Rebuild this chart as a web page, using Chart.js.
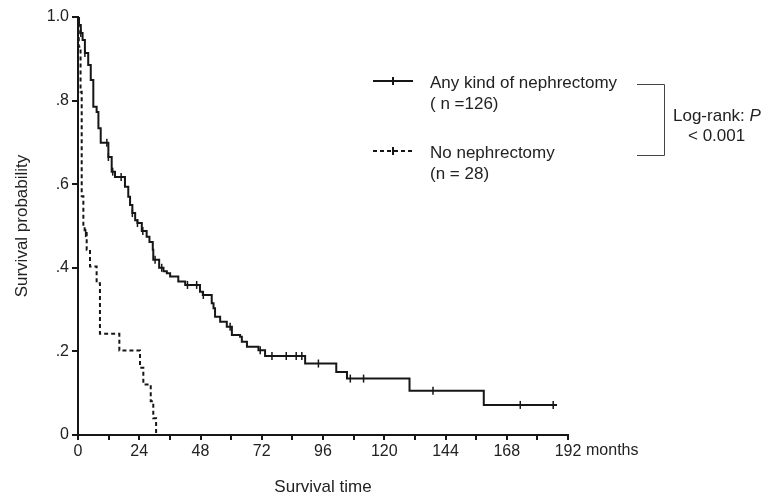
<!DOCTYPE html>
<html>
<head>
<meta charset="utf-8">
<title>Survival by nephrectomy</title>
<script src="https://cdn.jsdelivr.net/npm/chart.js@4.4.1/dist/chart.umd.min.js"></script>
<style>
  body { margin: 0; background: #fff; }
  #wrap { width: 768px; height: 501px; }
</style>
</head>
<body>
<div id="wrap"><canvas id="kmChart" width="768" height="501"></canvas></div>
<script>
// Kaplan-Meier steps (months, survival probability)
const nephTime = [0, 0.4, 1.1, 1.8, 2.7, 4.0, 5.0, 6.0, 7.3, 8.0, 8.9, 11.9, 13.2, 14.5, 18.4, 19.7, 20.4, 21.3, 22.4, 23.3,
  25.0, 26.9, 28.0, 29.3, 29.5, 31.8, 33.5, 34.8, 36.1, 39.3, 42.0, 47.8, 48.9, 52.4, 53.1, 53.7, 55.7, 58.3, 60.3, 63.5,
  64.2, 66.2, 70.7, 73.3, 89.0, 101.2, 105.4, 129.9, 159.0, 187.7];
const nephSurv = [1.0, 0.981, 0.962, 0.945, 0.914, 0.885, 0.849, 0.785, 0.773, 0.734, 0.699, 0.665, 0.630, 0.617, 0.594, 0.570, 0.550, 0.531, 0.514, 0.507,
  0.488, 0.474, 0.462, 0.443, 0.419, 0.400, 0.392, 0.387, 0.379, 0.367, 0.359, 0.343, 0.335, 0.315, 0.303, 0.283, 0.271, 0.259, 0.239, 0.235,
  0.223, 0.211, 0.203, 0.189, 0.171, 0.151, 0.135, 0.106, 0.072, 0.072];
const nephCensTime = [1.1, 2.7, 11.3, 11.9, 13.6, 16.9, 21.3, 23.3, 25.4, 30.2, 32.8, 42.9, 46.5, 49.1, 59.6, 71.4, 76.0, 81.6, 85.5, 87.7,
  94.2, 106.7, 111.9, 139.1, 173.3, 186.2];
const nephCensSurv = [0.962, 0.914, 0.699, 0.665, 0.630, 0.617, 0.531, 0.507, 0.488, 0.419, 0.400, 0.359, 0.359, 0.335, 0.259, 0.203, 0.189, 0.189, 0.189, 0.189,
  0.171, 0.135, 0.135, 0.106, 0.072, 0.072];

const noNephTime = [0, 0.3, 1.0, 1.45, 2.1, 2.6, 3.4, 4.7, 7.3, 8.6, 16.2, 24.3, 25.6, 28.5, 29.5, 30.6];
const noNephSurv = [1.0, 0.929, 0.821, 0.571, 0.500, 0.483, 0.443, 0.403, 0.363, 0.242, 0.202, 0.161, 0.121, 0.081, 0.040, 0.0];
const noNephCensTime = [3.0];
const noNephCensSurv = [0.483];

const xTicks = [0, 24, 48, 72, 96, 120, 144, 168, 192];

const INK = '#161616';
const FONT = '"Liberation Sans", Arial, Helvetica, sans-serif';

function pts(xs, ys) {
    return xs.map((x, i) => ({ x: x, y: ys[i] }));
}

// legend, bracket and the "months" unit are drawn after the chart
const annotations = {
    id: 'annotations',
    afterDraw(chart) {
        const ctx = chart.ctx;
        const xs = chart.scales.x;
        ctx.save();
        ctx.fillStyle = '#222';
        ctx.font = '16px ' + FONT;
        ctx.textBaseline = 'middle';
        ctx.textAlign = 'left';
        ctx.fillText('months', xs.getPixelForValue(192) + 18, 451);

        // legend samples
        ctx.strokeStyle = INK;
        ctx.lineWidth = 2;
        ctx.beginPath();
        ctx.moveTo(373, 81); ctx.lineTo(413, 81);
        ctx.moveTo(393, 77); ctx.lineTo(393, 85);
        ctx.stroke();
        ctx.setLineDash([4, 3]);
        ctx.beginPath();
        ctx.moveTo(373, 151); ctx.lineTo(413, 151);
        ctx.stroke();
        ctx.setLineDash([]);
        ctx.beginPath();
        ctx.moveTo(393, 147); ctx.lineTo(393, 155);
        ctx.stroke();

        ctx.font = '17px ' + FONT;
        ctx.fillText('Any kind of nephrectomy', 430, 83);
        ctx.fillText('( n =126)', 430, 104);
        ctx.fillText('No nephrectomy', 430, 153);
        ctx.fillText('(n = 28)', 430, 174);

        // log-rank bracket
        ctx.strokeStyle = '#444';
        ctx.lineWidth = 1;
        ctx.beginPath();
        ctx.moveTo(637, 84.5); ctx.lineTo(664.5, 84.5); ctx.lineTo(664.5, 155.5); ctx.lineTo(637, 155.5);
        ctx.stroke();

        const lr = 'Log-rank: ';
        ctx.fillText(lr, 673, 116);
        const w = ctx.measureText(lr).width;
        ctx.font = 'italic 17px ' + FONT;
        ctx.fillText('P', 673 + w, 116);
        ctx.font = '17px ' + FONT;
        ctx.fillText('< 0.001', 688, 136);
        ctx.restore();
    }
};

const ctx = document.getElementById('kmChart').getContext('2d');
window.kmChart = new Chart(ctx, {
    type: 'scatter',
    data: {
        datasets: [
            {
                label: 'Any kind of nephrectomy',
                data: pts(nephTime, nephSurv),
                showLine: true,
                stepped: true,
                borderColor: INK,
                borderWidth: 2,
                pointRadius: 0
            },
            {
                label: 'censored (nephrectomy)',
                data: pts(nephCensTime, nephCensSurv),
                pointStyle: 'line',
                rotation: 90,
                pointRadius: 4,
                borderColor: INK,
                borderWidth: 1.5
            },
            {
                label: 'No nephrectomy',
                data: pts(noNephTime, noNephSurv),
                showLine: true,
                stepped: true,
                borderColor: INK,
                borderWidth: 2,
                borderDash: [4, 3],
                pointRadius: 0
            },
            {
                label: 'censored (no nephrectomy)',
                data: pts(noNephCensTime, noNephCensSurv),
                pointStyle: 'line',
                rotation: 90,
                pointRadius: 4,
                borderColor: INK,
                borderWidth: 1.5
            }
        ]
    },
    options: {
        responsive: false,
        animation: false,
        devicePixelRatio: 1,
        layout: { padding: { left: 0, right: 200, top: 17, bottom: 0 } },
        plugins: { legend: { display: false }, tooltip: { enabled: false } },
        scales: {
            x: {
                type: 'linear',
                min: 0,
                max: 192,
                afterFit: s => { s.height = 66; },
                afterBuildTicks: s => { s.ticks = []; for (let v = 0; v <= 192; v += 12) s.ticks.push({ value: v }); },
                ticks: {
                    autoSkip: false,
                    maxRotation: 0,
                    padding: 2,
                    color: '#222',
                    font: { family: FONT, size: 16 },
                    callback: v => xTicks.includes(v) ? String(v) : ''
                },
                grid: { display: true, drawOnChartArea: false, drawTicks: true, tickLength: 5, color: INK, lineWidth: 2 },
                border: { display: true, color: INK, width: 2 },
                title: {
                    display: true,
                    text: 'Survival time',
                    color: '#222',
                    font: { family: FONT, size: 17 },
                    padding: { top: 0, bottom: 3 }
                }
            },
            y: {
                min: 0,
                max: 1,
                afterFit: s => { s.width = 78; },
                ticks: {
                    stepSize: 0.2,
                    padding: 3,
                    color: '#222',
                    font: { family: FONT, size: 16 },
                    callback: v => {
                        const d = Math.round(v * 10);
                        if (d === 0) return '0';
                        if (d === 10) return '1.0';
                        return '.' + d;
                    }
                },
                grid: { display: true, drawOnChartArea: false, drawTicks: true, tickLength: 6, color: INK, lineWidth: 2 },
                border: { display: true, color: INK, width: 2 },
                title: {
                    display: true,
                    text: 'Survival probability',
                    color: '#222',
                    font: { family: FONT, size: 17 },
                    padding: { top: 12, bottom: 0 }
                }
            }
        }
    },
    plugins: [annotations]
});
</script>
</body>
</html>
